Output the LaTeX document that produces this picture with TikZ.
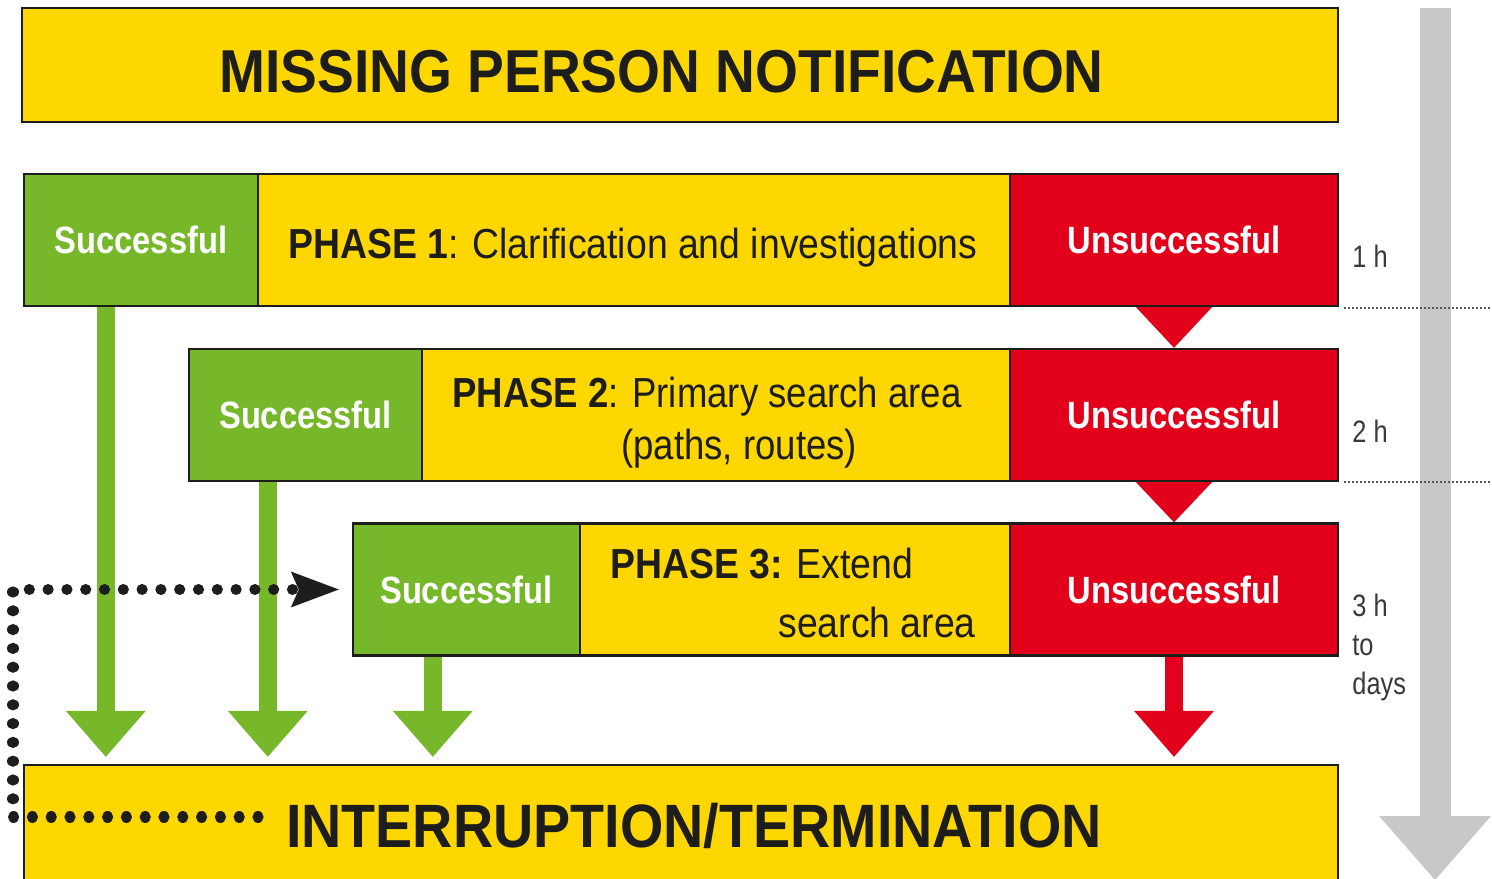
\documentclass[tikz,border=0pt]{standalone}
\usepackage{fontspec}
\setmainfont{Liberation Sans}
\newfontfamily\fTitleFam[FakeStretch=0.91]{Liberation Sans}
\newfontfamily\fCondFam[FakeStretch=0.86]{Liberation Sans}
\newfontfamily\fPhaseFam[FakeStretch=0.89]{Liberation Sans}
\newfontfamily\fPhaseNarrowFam[FakeStretch=0.87]{Liberation Sans}
\newfontfamily\fTimeFam[FakeStretch=0.82]{Liberation Sans}
\newcommand\fTitle{\fTitleFam\bfseries\fontsize{30.3}{36}\selectfont}
\newcommand\fTitleB{\fTitleFam\bfseries\fontsize{30.6}{36}\selectfont}
\newcommand\fCond{\fCondFam\bfseries\fontsize{19}{23}\selectfont}
\newcommand\fPhase{\fPhaseFam\fontsize{21}{25}\selectfont}
\newcommand\fPhaseN{\fPhaseNarrowFam\fontsize{21}{25}\selectfont}
\newcommand\fTime{\fTimeFam\fontsize{15.5}{19.5}\selectfont}
\usetikzlibrary{arrows.meta,calc,backgrounds}
\definecolor{yel}{HTML}{FFD700}
\definecolor{grn}{HTML}{76B82A}
\definecolor{rd}{HTML}{E2001A}
\definecolor{gry}{HTML}{C8C8C8}
\definecolor{ink}{HTML}{1D1D1B}
\definecolor{timec}{HTML}{3A3A3A}
\definecolor{sepc}{HTML}{555555}
\begin{document}
\begin{tikzpicture}[x=0.5pt,y=-0.5pt,
  box/.style={draw=ink, line width=1.2pt, inner sep=0pt, minimum height=66pt},
  ybox/.style={box, fill=yel},
  gbox/.style={box, fill=grn, text=white, font=\fCond},
  rbox/.style={box, fill=rd, text=white, font=\fCond},
  phase/.style={font=\fPhase, text=ink, inner sep=0pt},
  timelbl/.style={font=\fTime, text=timec, inner sep=0pt},
  garrow/.style={draw=grn, line width=9pt, -{Triangle[length=23pt,width=40pt,line width=0pt]}, shorten >=3.5pt},
  rarrow/.style={draw=rd, line width=9pt, -{Triangle[length=23pt,width=40pt,line width=0pt]}, shorten >=3.5pt},
  sepline/.style={draw=sepc, line width=0.9pt, dash pattern=on 0.9pt off 1.1pt},
  dotline/.style={draw=ink, line width=5.6pt, line cap=round, dash pattern=on 0.01pt off 9.39pt,
    -{Stealth[length=24pt,width=18pt,inset=4pt,line width=0pt]}, shorten >=6.5pt}
]
\useasboundingbox (0,0) rectangle (1492,878);
\clip (0,0) rectangle (1492,878);

% title
\node[ybox, minimum width=658pt, minimum height=57pt] (top) at (680,65) {};
\node[anchor=base, font=\fTitle, text=ink, inner sep=0pt] (toptext) at (661.5,92) {MISSING PERSON NOTIFICATION};

% row 1
\node[gbox, minimum width=117pt] (s1) at (141,240) {Successful};
\node[ybox, minimum width=376pt] (p1) at (634,240) {};
\node[rbox, minimum width=164pt] (u1) at (1174,240) {Unsuccessful};
\node[phase, anchor=base west] (p1t) at (288,258) {\textbf{PHASE 1}: Clarification and investigations};

% row 2
\node[gbox, minimum width=116.5pt] (s2) at (305.5,415) {Successful};
\node[ybox, minimum width=294pt] (p2) at (716,415) {};
\node[rbox, minimum width=164pt] (u2) at (1174,415) {Unsuccessful};
\node[phase, font=\fPhaseN, anchor=base west] (p2a) at (452,407) {\textbf{PHASE 2}: Primary search area};
\node[phase, font=\fPhaseN, anchor=base west] (p2b) at (621,459) {(paths, routes)};

% row 3
\node[gbox, minimum width=113.5pt] (s3) at (466.5,589.5) {Successful};
\node[ybox, minimum width=215pt] (p3) at (795,589.5) {};
\node[rbox, minimum width=164pt] (u3) at (1174,589.5) {Unsuccessful};
\node[phase, anchor=base west] (p3a) at (610,578) {\textbf{PHASE 3:} Extend};
\node[phase, anchor=base west] (p3b) at (778,637) {search area};

% bottom
\node[ybox, minimum width=657pt, minimum height=70pt] (bot) at (681,835) {};
\node[anchor=base, font=\fTitleB, text=ink, inner sep=0pt] (bottext) at (694,847) {INTERRUPTION/TERMINATION};

% time labels
\node[timelbl, anchor=base west] (t1) at (1352,267) {1 h};
\node[timelbl, anchor=base west] (t2) at (1352,442) {2 h};
\node[timelbl, anchor=north west, align=left] (t3) at (1352,594) {3 h\\to\\days};

\begin{pgfonlayer}{background}
  % timeline arrow
  \coordinate (tl0) at (1435,8);
  \coordinate (tl1) at (1435,880);
  \draw[draw=gry, line width=15.5pt, -{Triangle[length=32pt,width=56pt,line width=0pt]}] (tl0) -- (tl1);
  % separators
  \draw[sepline] ($(u1.south east)+(5,1)$) -- ++(150,0);
  \draw[sepline] ($(u2.south east)+(5,0)$) -- ++(150,0);
  % red triangles
  \fill[rd] ($(u1.south)+(-38,0)$) -- ($(u1.south)+(38,0)$) -- (u2.north) -- cycle;
  \fill[rd] ($(u2.south)+(-38,0)$) -- ($(u2.south)+(38,0)$) -- (u3.north) -- cycle;
  % green arrows
  \coordinate (g1) at ($(s1.south west)+(83,0)$);
  \coordinate (g2) at ($(s2.south west)+(80,0)$);
  \coordinate (g3) at ($(s3.south west)+(81,0)$);
  \draw[garrow] (g1) -- (g1 |- bot.north);
  \draw[garrow] (g2) -- (g2 |- bot.north);
  \draw[garrow] (g3) -- (g3 |- bot.north);
  \draw[rarrow] (u3.south) -- (u3.south |- bot.north);
\end{pgfonlayer}

% dotted feedback line
\coordinate (d0) at (258,817);
\coordinate (d1) at (13,817);
\coordinate (d2) at (13,589.5);
\draw[dotline] (d0) -- (d1) -- (d2) -- (s3.west);
\end{tikzpicture}
\end{document}
